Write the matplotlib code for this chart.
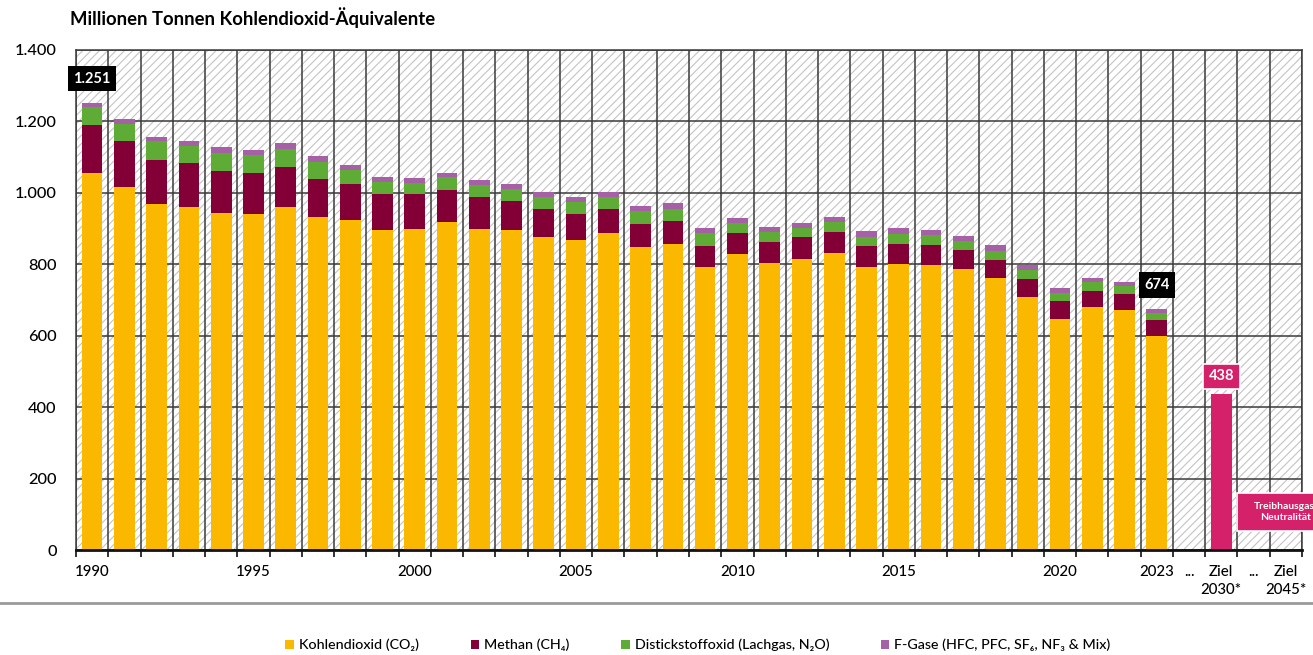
import matplotlib
matplotlib.use("Agg")
import matplotlib.pyplot as plt
from matplotlib.patches import Rectangle, Patch
from matplotlib.lines import Line2D
from matplotlib.ticker import FixedLocator, FuncFormatter
import numpy as np

plt.rcParams['font.family'] = ['Lato', 'DejaVu Sans']
plt.rcParams['font.weight'] = 'medium'
plt.rcParams['mathtext.default'] = 'regular'
plt.rcParams['hatch.linewidth'] = 0.8

years = list(range(1990, 2024))
co2 = [1056, 1017, 970, 960, 943, 940, 960, 932, 924, 896, 900, 917, 900, 896, 877, 869,
       887, 848, 857, 792, 828, 804, 815, 832, 793, 801, 798, 786, 761, 709, 648, 680, 672, 599]
ch4 = [134, 128, 122, 123, 119, 116, 113, 108, 102, 101, 96, 92, 88, 82, 77, 73,
       68, 65, 65, 59, 59, 59, 60, 58, 57, 57, 55, 53, 52, 51, 49, 45, 46, 45]
n2o = [49, 49, 52, 49, 50, 49, 50, 47, 37, 33, 32, 34, 33, 34, 35, 32,
       33, 35, 34, 36, 28, 28, 27, 28, 27, 28, 28, 27, 25, 24, 23, 25, 22, 20]
fgas = [12, 12, 11, 14, 17, 16, 17, 16, 16, 14, 13, 13, 14, 14, 13, 15,
        14, 14, 15, 14, 14, 14, 14, 15, 15, 15, 15, 14, 15, 14, 13, 11, 11, 10]
target_2030 = 438
label_1990 = "1.251"
label_2023 = "674"
label_2030 = "438"
tick_labels = ['1990', '1995', '2000', '2005', '2010', '2015', '2020', '2023',
               '...', 'Ziel\n2030*', '...', 'Ziel\n2045*']
tick_years = [1990, 1995, 2000, 2005, 2010, 2015, 2020, 2023]
legend_labels = ['Kohlendioxid (CO₂)', 'Methan (CH₄)',
                 'Distickstoffoxid (Lachgas, N₂O)',
                 'F-Gase (HFC, PFC, SF₆, NF₃ & Mix)']
colors = ['#fbb800', '#820036', '#5eab35', '#a660a6']
pink = '#d5206a'

n_years = len(years)
x = np.arange(n_years)
x_2030 = n_years + 1
n_slots = n_years + 4

fig = plt.figure(figsize=(13.13, 6.55), dpi=100)
ax = fig.add_axes([76/1313, 1-550/655, (1302-76)/1313, 500/655])
ax.set_xlim(-0.5, n_slots - 0.5)
ax.set_ylim(0, 1400)

# hatched background
ax.add_patch(Rectangle((0, 0), 1, 1, transform=ax.transAxes, facecolor='white',
                       edgecolor='#c4c4c4', hatch='////', lw=0, zorder=0.1))

w = 0.64
bottom = np.zeros(n_years)
for vals, c in zip([co2, ch4, n2o, fgas], colors):
    ax.bar(x, vals, width=w, bottom=bottom, color=c, edgecolor='none', zorder=2)
    bottom += np.array(vals)
ax.bar([x_2030], [target_2030], width=w, color=pink, edgecolor='none', zorder=2)

# grid
ax.xaxis.set_major_locator(FixedLocator(np.arange(-0.5, n_slots, 1.0)))
ax.xaxis.set_major_formatter(FuncFormatter(lambda v, p: ''))
minor_pos = [y - 1990 for y in tick_years] + [n_years, n_years + 1, n_years + 2, n_years + 3]
ax.xaxis.set_minor_locator(FixedLocator(minor_pos))
ax.set_xticklabels(tick_labels, minor=True)
ax.tick_params(axis='x', which='major', length=5, width=1.3, color='#222222', direction='out')
ax.tick_params(axis='x', which='minor', length=0, pad=11, labelsize=10.8)
for t in ax.xaxis.get_minorticklabels():
    t.set_linespacing(1.3)
ax.set_yticks(np.arange(0, 1401, 200))
ax.yaxis.set_major_formatter(FuncFormatter(lambda v, p: f'{int(v):,}'.replace(',', '.')))
ax.tick_params(axis='y', length=0, pad=14, labelsize=11.8)
ax.set_axisbelow(True)
ax.grid(True, which='major', axis='both', color='#3a3a3a', lw=1.1, zorder=1)
for s in ['left', 'right', 'top']:
    ax.spines[s].set_color('#3a3a3a')
    ax.spines[s].set_linewidth(1.1)
ax.spines['bottom'].set_color('#111111')
ax.spines['bottom'].set_linewidth(2)

# value labels
ax.text(0, 1319, label_1990, ha='center', va='center', color='white', fontsize=10.5,
        fontweight='bold', zorder=5,
        bbox=dict(boxstyle='square,pad=0.38', facecolor='black', edgecolor='none'))
ax.text(n_years - 1, 742, label_2023, ha='center', va='center', color='white', fontsize=10.5,
        fontweight='bold', zorder=5,
        bbox=dict(boxstyle='square,pad=0.38', facecolor='black', edgecolor='none'))
ax.text(x_2030, 487, label_2030, ha='center', va='center', color='white', fontsize=10.5,
        fontweight='bold', zorder=5,
        bbox=dict(boxstyle='square,pad=0.38', facecolor=pink, edgecolor='white', lw=1.2))

# neutrality box
ax.add_patch(Rectangle((x_2030 + 0.5, 53), 3.2, 107, facecolor=pink, edgecolor='white',
                       lw=1.2, zorder=5, clip_on=False))
ax.text(n_slots - 1, 106, 'Treibhausgas-\nNeutralität', ha='center', va='center',
        color='white', fontsize=7.5, fontweight='bold', zorder=6, clip_on=False,
        linespacing=1.3)

# title
fig.text(70/1313, 1-18/655, 'Millionen Tonnen Kohlendioxid-Äquivalente', ha='left',
         va='center', fontsize=13.3, fontweight='bold')

# separator
fig.add_artist(Line2D([0, 1], [1-603/655, 1-603/655], transform=fig.transFigure,
                      color='#9a9a9a', lw=2))

handles = [Patch(facecolor=c, edgecolor='none') for c in colors]
fig.legend(handles, legend_labels, loc='center', bbox_to_anchor=(698/1313, 1-645/655),
           ncol=4, frameon=False, fontsize=10.3, handlelength=0.6, handleheight=0.6,
           handletextpad=0.35, columnspacing=3.6)

fig.savefig('out.png', dpi=100)
